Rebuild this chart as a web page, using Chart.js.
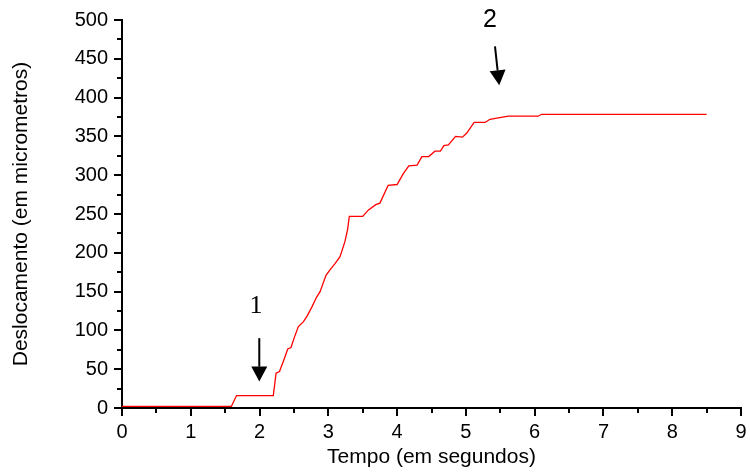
<!DOCTYPE html>
<html>
<head>
<meta charset="utf-8">
<script src="https://cdn.jsdelivr.net/npm/chart.js@4/dist/chart.umd.min.js"></script>
<style>
  body { margin: 0; background: #fff; }
  #wrap { width: 750px; height: 475px; }
</style>
</head>
<body>
<div id="wrap"><canvas id="myChart" width="750" height="475"></canvas></div>
<script>
// tempo (s) e deslocamento (micrometros)
const tempo = [0, 1.59, 1.665, 2.2, 2.24, 2.29, 2.345, 2.41, 2.457, 2.51, 2.564, 2.636, 2.695,
  2.76, 2.83, 2.88, 2.966, 3.024, 3.097, 3.17, 3.24, 3.28, 3.305, 3.5, 3.58, 3.69, 3.75,
  3.87, 4.0, 4.09, 4.17, 4.29, 4.36, 4.46, 4.55, 4.63, 4.68, 4.745, 4.85, 4.95, 5.01,
  5.12, 5.28, 5.35, 5.47, 5.62, 6.05, 6.10, 8.5];
const deslocamento = [2, 2, 16, 16, 45, 47, 60, 76, 78, 92, 105, 111, 119,
  130, 143, 150, 171, 178, 186, 195, 214, 230, 247, 247, 255, 262, 264,
  287, 288, 302, 312, 313, 324, 324, 331, 331, 338, 339, 350, 349, 354,
  368, 368, 372, 374, 376, 376, 378.5, 378.5];

// setas com numeros (em coordenadas dos dados)
const setaTexto = ['1', '2'];
const setaFonte = ['26px "Liberation Serif", "Times New Roman", serif', '25px "Liberation Sans", Arial, sans-serif'];
const setaTextoPos = [[1.948, 131], [5.35, 500]];
const setaInicio = [[1.996, 90], [5.423, 466]];
const setaPonta = [[1.996, 34], [5.485, 416]];

const sans = '"Liberation Sans", Arial, sans-serif';

function pontos() {
  let p = [];
  for (let i in tempo) {
    p.push({x: tempo[i], y: deslocamento[i]});
  }
  return p;
}

// sem folga extra dos rotulos: a area do grafico fica so com o padding do layout
function semFolga(s) {
  s.paddingLeft = 0;
  s.paddingRight = 0;
  s.paddingTop = 0;
  s.paddingBottom = 0;
}

// desenha os tracos dos eixos (maiores e menores)
const tracos = {
  id: 'tracos',
  afterDraw(chart) {
    const ctx = chart.ctx;
    const xs = chart.scales.x, ys = chart.scales.y;
    ctx.save();
    ctx.strokeStyle = '#000';
    ctx.lineWidth = 2;
    ctx.beginPath();
    xs.ticks.forEach(t => {
      const px = Math.round(xs.getPixelForValue(t.value));
      const len = Number.isInteger(t.value) ? 8 : 5;
      ctx.moveTo(px, ys.bottom);
      ctx.lineTo(px, ys.bottom + len);
    });
    ys.ticks.forEach(t => {
      const py = Math.round(ys.getPixelForValue(t.value));
      const len = t.value % 50 === 0 ? 8 : 5;
      ctx.moveTo(xs.left, py);
      ctx.lineTo(xs.left - len, py);
    });
    ctx.stroke();

    // setas
    for (let i in setaTexto) {
      const x0 = xs.getPixelForValue(setaInicio[i][0]), y0 = ys.getPixelForValue(setaInicio[i][1]);
      const x1 = xs.getPixelForValue(setaPonta[i][0]), y1 = ys.getPixelForValue(setaPonta[i][1]);
      const ang = Math.atan2(y1 - y0, x1 - x0);
      const hl = 15, hw = 8;
      const bx = x1 - hl * Math.cos(ang), by = y1 - hl * Math.sin(ang);
      ctx.lineWidth = 2;
      ctx.beginPath();
      ctx.moveTo(x0, y0);
      ctx.lineTo(bx, by);
      ctx.stroke();
      ctx.fillStyle = '#000';
      ctx.beginPath();
      ctx.moveTo(x1, y1);
      ctx.lineTo(bx + hw * Math.sin(ang), by - hw * Math.cos(ang));
      ctx.lineTo(bx - hw * Math.sin(ang), by + hw * Math.cos(ang));
      ctx.closePath();
      ctx.fill();

      ctx.font = setaFonte[i];
      ctx.textAlign = 'center';
      ctx.textBaseline = 'middle';
      ctx.fillText(setaTexto[i], xs.getPixelForValue(setaTextoPos[i][0]), ys.getPixelForValue(setaTextoPos[i][1]));
    }
    ctx.restore();
  }
};

const ctx = document.getElementById('myChart').getContext('2d');
const myChart = new Chart(ctx, {
  type: 'line',
  data: {
    datasets: [{
      data: pontos(),
      borderColor: '#ff0000',
      borderWidth: 1.3,
      pointRadius: 0,
      tension: 0,
      fill: false
    }]
  },
  options: {
    responsive: false,
    animation: false,
    layout: { padding: { top: 20, right: 9, left: 0, bottom: 0 } },
    plugins: { legend: { display: false }, tooltip: { enabled: false } },
    scales: {
      x: {
        type: 'linear',
        min: 0, max: 9,
        afterFit(s) { s.height = 67; semFolga(s); },
        grid: { drawOnChartArea: false, drawTicks: false },
        border: { display: true, color: '#000', width: 2 },
        ticks: {
          stepSize: 0.5,
          autoSkip: false,
          maxRotation: 0,
          padding: 12,
          color: '#000',
          font: { family: sans, size: 20 },
          callback: v => Number.isInteger(v) ? String(v) : ''
        },
        title: {
          display: true,
          text: 'Tempo (em segundos)',
          color: '#000',
          font: { family: sans, size: 21 },
          padding: { top: 0, bottom: 5 }
        }
      },
      y: {
        min: 0, max: 500,
        afterFit(s) { s.width = 122; semFolga(s); },
        grid: { drawOnChartArea: false, drawTicks: false },
        border: { display: true, color: '#000', width: 2 },
        ticks: {
          stepSize: 25,
          autoSkip: false,
          padding: 14,
          color: '#000',
          font: { family: sans, size: 20 },
          callback: v => v % 50 === 0 ? String(v) : ''
        },
        title: {
          display: true,
          text: 'Deslocamento (em micrometros)',
          color: '#000',
          font: { family: sans, size: 21 },
          padding: { top: 9, bottom: 0 }
        }
      }
    }
  },
  plugins: [tracos]
});
</script>
</body>
</html>
